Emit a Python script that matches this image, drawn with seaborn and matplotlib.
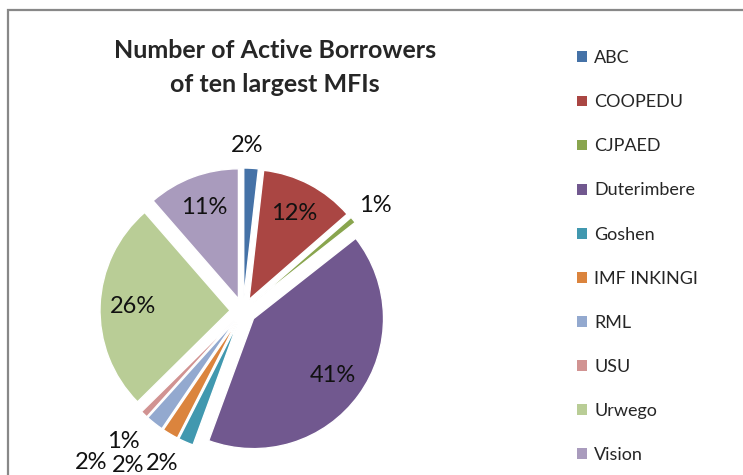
import numpy as np
import matplotlib
matplotlib.use("Agg")
import matplotlib.pyplot as plt
from matplotlib.patches import Rectangle, Patch
import seaborn as sns

# share of active borrowers (%) among the ten largest MFIs
mfis = ["ABC", "COOPEDU", "CJPAED", "Duterimbere", "Goshen",
        "IMF INKINGI", "RML", "USU", "Urwego", "Vision"]
share = [1.8, 11.8, 0.8, 41.2, 1.9, 2.0, 2.2, 0.9, 26.0, 11.4]
colors = ["#4572A7", "#AA4643", "#89A54E", "#71588F", "#4198AF",
          "#DB843D", "#93A9CF", "#D19392", "#B9CD96", "#A99BBD"]

# outside-label placement for the thin slices: (radius, angle nudge in deg)
outside = {
    "ABC": (1.27, 1.8),
    "CJPAED": (1.30, -1.0),
    "Goshen": (1.33, -4.4),
    "IMF INKINGI": (1.48, -6.0),
    "RML": (1.65, -7.0),
    "USU": (1.36, 1.2),
}

sns.set_theme(style="white")
plt.rcParams["font.family"] = ["Lato", "DejaVu Sans"]
palette = sns.color_palette(colors)

fig = plt.figure(figsize=(7.43, 4.75), dpi=100)
ax = fig.add_axes([93 / 743, 14 / 475, 300 / 743, 300 / 475])

wedges, _ = ax.pie(
    share, colors=palette, startangle=90,
    counterclock=False, explode=[0.1] * len(share),
    wedgeprops=dict(edgecolor="white", linewidth=1),
)

for w, name, v in zip(wedges, mfis, share):
    mid = (w.theta1 + w.theta2) / 2
    if name in outside:
        dist, nudge = outside[name]
        t = np.deg2rad(mid + nudge)
        x, y = dist * np.cos(t), dist * np.sin(t)
    else:
        t = np.deg2rad(mid)
        x = w.center[0] + 0.75 * np.cos(t)
        y = w.center[1] + 0.75 * np.sin(t)
    ax.text(x, y, f"{v:.0f}%", ha="center", va="center",
            fontsize=17, color="#111111")

lim = 150 / 130
ax.set_xlim(-lim, lim)
ax.set_ylim(-lim, lim)

fig.text(275 / 743, 1 - 50 / 475, "Number of Active Borrowers",
         ha="center", va="center", fontsize=18, fontweight="bold")
fig.text(275 / 743, 1 - 84 / 475, "of ten largest MFIs",
         ha="center", va="center", fontsize=18, fontweight="bold")

handles = [Patch(facecolor=c, edgecolor="none") for c in palette]
fig.legend(
    handles, mfis, loc="upper left", bbox_to_anchor=(561 / 743, 1 - 34 / 475),
    frameon=False, fontsize=13, handlelength=0.55, handleheight=0.55,
    handletextpad=0.4, labelspacing=1.555,
)

# chart-area border (only top and left edges fall inside the picture)
fig.add_artist(Rectangle((8 / 743, -0.1), 1.1, 1.1 - 10 / 475,
                         transform=fig.transFigure, fill=False,
                         edgecolor="#888888", linewidth=1.6, clip_on=False))

fig.savefig("out.png", dpi=100)
